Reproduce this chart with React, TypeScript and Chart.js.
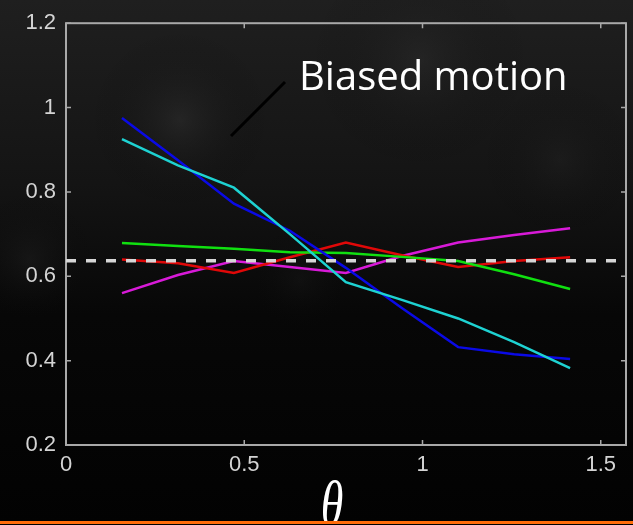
import React, { useEffect, useRef } from "react";
import { Chart, registerables } from "chart.js";

Chart.register(...registerables);

// θ sample positions (radians)
const thetas = [0.157, 0.314, 0.471, 0.628, 0.785, 0.942, 1.1, 1.257, 1.414];

const blueSeries = [0.975, 0.875, 0.772, 0.708, 0.62, 0.525, 0.432, 0.415, 0.404];
const cyanSeries = [0.925, 0.863, 0.81, 0.7, 0.586, 0.544, 0.5, 0.444, 0.382];
const greenSeries = [0.679, 0.672, 0.665, 0.657, 0.655, 0.646, 0.636, 0.605, 0.57];
const redSeries = [0.64, 0.631, 0.608, 0.645, 0.68, 0.65, 0.622, 0.636, 0.645];
const magentaSeries = [0.56, 0.603, 0.636, 0.622, 0.608, 0.648, 0.68, 0.698, 0.714];

const referenceLevel = 0.6366; // dashed line
const xRange = [0, 1.5708];
const yRange = [0.2, 1.2];

const xTicks = [0, 0.5, 1, 1.5];
const xTickLabels = ["0", "0.5", "1", "1.5"];
const yTicks = [0.2, 0.4, 0.6, 0.8, 1, 1.2];
const yTickLabels = ["0.2", "0.4", "0.6", "0.8", "1", "1.2"];

const annotationText = "Biased motion";
const xAxisSymbol = "θ";

const toPoints = (ys: number[]) => thetas.map((x, i) => ({ x, y: ys[i] }));

export default function App() {
  const ref = useRef<HTMLCanvasElement | null>(null);

  useEffect(() => {
    if (!ref.current) return;

    const bgPlugin = {
      id: "bg",
      beforeDraw(chart: any) {
        const { ctx, width, height } = chart;
        ctx.save();
        const g = ctx.createLinearGradient(0, 0, 0, height);
        g.addColorStop(0, "#1f1f1f");
        g.addColorStop(0.35, "#141414");
        g.addColorStop(0.6, "#070707");
        g.addColorStop(1, "#020202");
        ctx.fillStyle = g;
        ctx.fillRect(0, 0, width, height);
        const blobs = [
          [180, 120, 90, "rgba(60,60,60,0.35)"],
          [420, 60, 110, "rgba(55,55,55,0.3)"],
          [30, 260, 70, "rgba(50,50,50,0.25)"],
          [560, 160, 80, "rgba(45,45,45,0.25)"],
          [300, 280, 60, "rgba(40,40,40,0.2)"],
        ] as const;
        for (const [bx, by, r, c] of blobs) {
          const rg = ctx.createRadialGradient(bx, by, 0, bx, by, r);
          rg.addColorStop(0, c);
          rg.addColorStop(1, "rgba(0,0,0,0)");
          ctx.fillStyle = rg;
          ctx.fillRect(bx - r, by - r, r * 2, r * 2);
        }
        ctx.restore();
      },
    };

    const framePlugin = {
      id: "frame",
      beforeDatasetsDraw(chart: any) {
        const { ctx, chartArea } = chart;
        const xs = chart.scales.x;
        const ys = chart.scales.y;
        const { left, right, top, bottom } = chartArea;
        ctx.save();
        ctx.strokeStyle = "#a9a9a9";
        ctx.lineWidth = 2;
        ctx.strokeRect(left, top, right - left, bottom - top);
        ctx.lineWidth = 1.5;
        ctx.beginPath();
        for (const v of xTicks) {
          const px = xs.getPixelForValue(v);
          ctx.moveTo(px, bottom);
          ctx.lineTo(px, bottom - 5);
          ctx.moveTo(px, top);
          ctx.lineTo(px, top + 5);
        }
        for (const v of yTicks) {
          const py = ys.getPixelForValue(v);
          ctx.moveTo(left, py);
          ctx.lineTo(left + 5, py);
          ctx.moveTo(right, py);
          ctx.lineTo(right - 5, py);
        }
        ctx.stroke();
        ctx.restore();
      },
    };

    const annotPlugin = {
      id: "annot",
      afterDraw(chart: any) {
        const { ctx, width } = chart;
        ctx.save();
        // pointer line
        ctx.strokeStyle = "#000000";
        ctx.lineWidth = 3;
        ctx.beginPath();
        ctx.moveTo(285, 82);
        ctx.lineTo(231, 136);
        ctx.stroke();
        // annotation text
        ctx.fillStyle = "#ffffff";
        ctx.font = '40px "Open Sans"';
        ctx.textAlign = "left";
        ctx.textBaseline = "alphabetic";
        ctx.fillText(annotationText, 299, 90);
        // theta symbol
        ctx.save();
        ctx.translate(332, 476);
        ctx.scale(1, 1.4);
        ctx.font = 'italic 46px "Liberation Serif"';
        ctx.textAlign = "center";
        ctx.textBaseline = "top";
        ctx.fillText(xAxisSymbol, 0, 0);
        ctx.restore();
        // orange rule
        ctx.fillStyle = "#ff6c0a";
        ctx.fillRect(0, 521, width, 3);
        ctx.fillStyle = "#000000";
        ctx.fillRect(0, 524, width, 1);
        ctx.restore();
      },
    };

    const lineDs = (label: string, ys: number[], color: string) => ({
      label,
      data: toPoints(ys),
      borderColor: color,
      backgroundColor: color,
      borderWidth: 2.5,
      pointRadius: 0,
      tension: 0,
      fill: false,
    });

    const chart = new Chart(ref.current, {
      type: "line",
      data: {
        datasets: [
          {
            label: "reference",
            data: [
              { x: xRange[0], y: referenceLevel },
              { x: xRange[1], y: referenceLevel },
            ],
            borderColor: "#d6d6d6",
            borderWidth: 3.5,
            borderDash: [10, 10],
            pointRadius: 0,
            fill: false,
            order: 0,
          },
          { ...lineDs("magenta", magentaSeries, "#d81ad8"), order: 5 },
          { ...lineDs("red", redSeries, "#e00808"), order: 4 },
          { ...lineDs("green", greenSeries, "#10e010"), order: 3 },
          { ...lineDs("blue", blueSeries, "#0a0ae6"), order: 2 },
          { ...lineDs("cyan", cyanSeries, "#1ed2d2"), order: 1 },
        ],
      },
      options: {
        animation: false,
        responsive: false,
        maintainAspectRatio: false,
        layout: { padding: { top: 23, right: 7, left: 0, bottom: 0 } },
        plugins: {
          legend: { display: false },
          tooltip: { enabled: false },
        },
        scales: {
          x: {
            type: "linear",
            min: xRange[0],
            max: xRange[1],
            grid: { display: false, drawTicks: false },
            border: { display: false },
            afterBuildTicks: (s: any) => {
              s.ticks = xTicks.map((v) => ({ value: v }));
            },
            afterFit: (s: any) => {
              s.height = 80;
            },
            ticks: {
              color: "#d4d4d4",
              font: { family: '"Liberation Sans"', size: 22 },
              padding: 7,
              maxRotation: 0,
              autoSkip: false,
              callback: (v: any) => {
                const i = xTicks.indexOf(Number(v));
                return i >= 0 ? xTickLabels[i] : "";
              },
            },
          },
          y: {
            type: "linear",
            min: yRange[0],
            max: yRange[1],
            grid: { display: false, drawTicks: false },
            border: { display: false },
            afterBuildTicks: (s: any) => {
              s.ticks = yTicks.map((v) => ({ value: v }));
            },
            afterFit: (s: any) => {
              s.width = 66;
            },
            ticks: {
              color: "#d4d4d4",
              font: { family: '"Liberation Sans"', size: 22 },
              padding: 10,
              autoSkip: false,
              callback: (v: any) => {
                const i = yTicks.findIndex((t) => Math.abs(t - Number(v)) < 1e-6);
                return i >= 0 ? yTickLabels[i] : "";
              },
            },
          },
        },
      },
      plugins: [bgPlugin, framePlugin, annotPlugin],
    });

    return () => chart.destroy();
  }, []);

  return (
    <div style={{ position: "absolute", left: 0, top: 0, width: 633, height: 525 }}>
      <canvas ref={ref} width={633} height={525} style={{ display: "block", width: 633, height: 525 }} />
    </div>
  );
}
